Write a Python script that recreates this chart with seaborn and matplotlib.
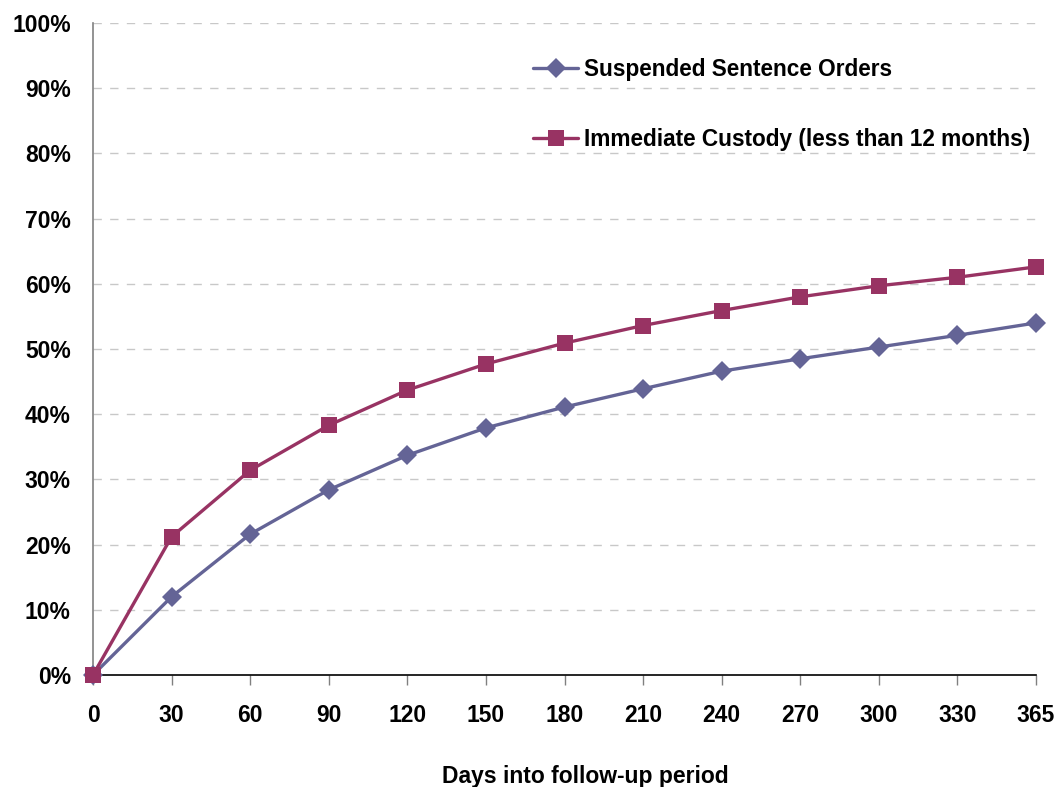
import matplotlib
matplotlib.use("Agg")
import matplotlib.pyplot as plt
import seaborn as sns
import pandas as pd
import numpy as np

days = ["0", "30", "60", "90", "120", "150", "180", "210", "240", "270", "300", "330", "365"]
suspended = [0.0, 12.0, 21.6, 28.4, 33.7, 37.9, 41.1, 43.9, 46.6, 48.5, 50.3, 52.1, 54.0]
custody = [0.0, 21.2, 31.4, 38.3, 43.7, 47.7, 50.9, 53.6, 55.9, 58.0, 59.7, 61.0, 62.6]
series_names = ["Suspended Sentence Orders", "Immediate Custody (less than 12 months)"]
y_ticks = [0, 10, 20, 30, 40, 50, 60, 70, 80, 90, 100]

sns.set_theme(style="white")
plt.rcParams['font.family'] = ['Liberation Sans', 'DejaVu Sans']
plt.rcParams['text.color'] = 'black'
plt.rcParams['xtick.color'] = 'black'
plt.rcParams['ytick.color'] = 'black'

pos = np.arange(len(days))
df = pd.DataFrame({
    "pos": np.concatenate([pos, pos]),
    "value": suspended + custody,
    "series": [series_names[0]] * len(days) + [series_names[1]] * len(days),
})

fig = plt.figure(figsize=(10.6, 7.87), dpi=100)
ax = fig.add_axes([93/1060, 1 - 675/787, (1036-93)/1060, (675-23)/787])

palette = {series_names[0]: "#646496", series_names[1]: "#983363"}
markers = {series_names[0]: "D", series_names[1]: "s"}
for name in series_names:
    sub = df[df.series == name]
    sns.lineplot(data=sub, x="pos", y="value", ax=ax, color=palette[name],
                 marker=markers[name], markersize=12 if markers[name] == "s" else 10.5,
                 markeredgewidth=0, linewidth=2.4, label=name, clip_on=False, zorder=3)

ax.set_xlim(0, len(days) - 1)
ax.set_ylim(0, 100)
ax.set_yticks(y_ticks)
ax.set_yticklabels([f"{t}%" for t in y_ticks], fontsize=16.5, fontweight="bold", color="black")
ax.set_xticks(pos)
ax.set_xticklabels(days, fontsize=16.5, fontweight="bold", color="black")
ax.tick_params(axis="y", length=0, pad=16)
ax.tick_params(axis="x", bottom=True, length=7, width=1, color="#808080", direction="out", pad=14)
for t in y_ticks[1:]:
    ax.axhline(t, color="#c8c8c8", linestyle=(0, (6, 6)), linewidth=1, zorder=1)
ax.set_xlabel("")
ax.set_ylabel("")
for s in ["top", "right"]:
    ax.spines[s].set_visible(False)
ax.spines["left"].set_color("#808080")
ax.spines["left"].set_linewidth(1.2)
ax.spines["bottom"].set_color("black")
ax.spines["bottom"].set_linewidth(1.2)

leg = ax.legend(loc="upper left", bbox_to_anchor=(533/1060, 1 - 58/787), bbox_transform=fig.transFigure,
                frameon=False, prop={"size": 16.3, "weight": "bold", "family": "Liberation Sans"},
                handlelength=2.0, labelspacing=2.08, handletextpad=0.25, borderaxespad=0, borderpad=0)
for txt in leg.get_texts():
    txt.set_color("black")

fig.text(585/1060, 1 - 776/787, "Days into follow-up period", ha="center", va="center",
         fontsize=16.5, fontweight="bold", color="black")

fig.savefig("out.png", dpi=100, facecolor="white")
